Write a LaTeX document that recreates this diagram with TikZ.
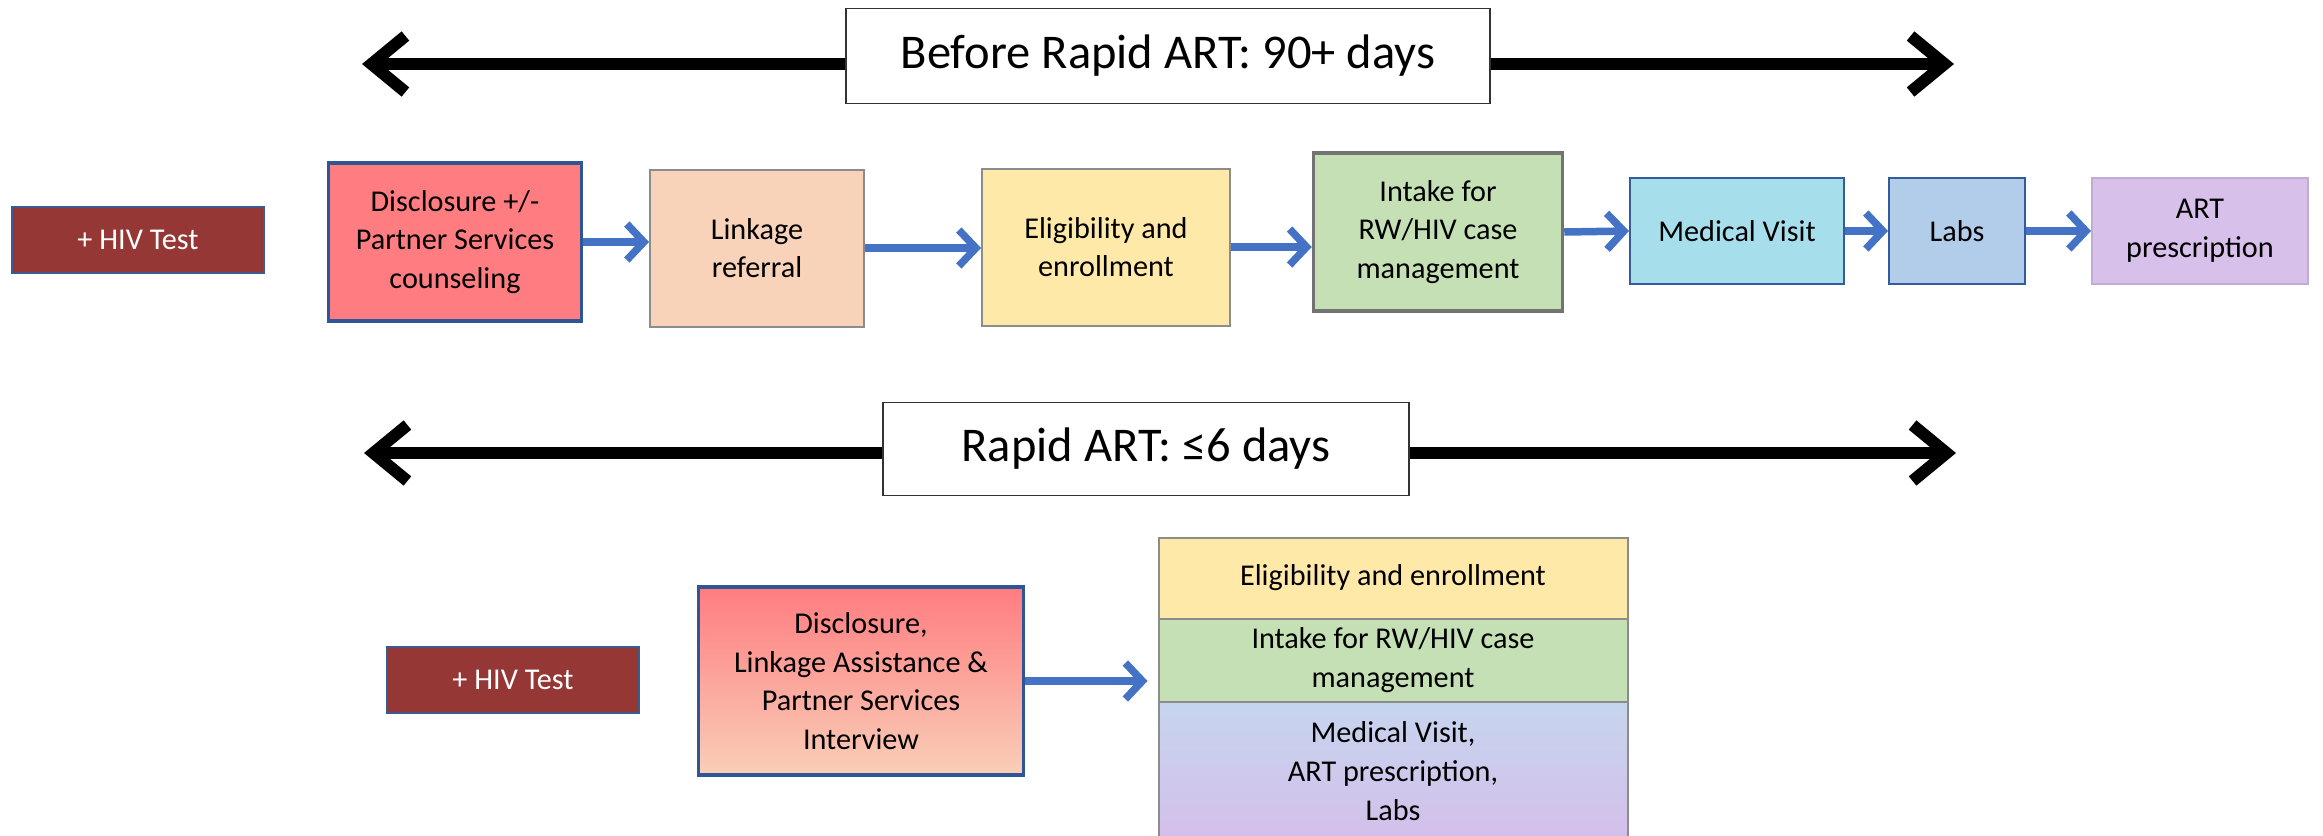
\documentclass[tikz,border=0pt]{standalone}
\usepackage{fontspec}
\setmainfont{Carlito}
\usetikzlibrary{arrows.meta}

\definecolor{testred}{HTML}{953735}
\definecolor{testedge}{HTML}{3B5A8E}
\definecolor{discred}{HTML}{FF7C80}
\definecolor{discedge}{HTML}{2F5597}
\definecolor{linkpeach}{HTML}{F8D3BA}
\definecolor{eligyellow}{HTML}{FFE9A9}
\definecolor{intakegreen}{HTML}{C5E0B4}
\definecolor{medcyan}{HTML}{A6DFEB}
\definecolor{labsblue}{HTML}{B1CDEA}
\definecolor{artlilac}{HTML}{D7C0EA}
\definecolor{stacktop}{HTML}{C6D5EF}
\definecolor{stackmid}{HTML}{ABC0E4}
\definecolor{stackbot}{HTML}{D4BFEA}
\definecolor{flowblue}{HTML}{4472C4}
\definecolor{boxgray}{HTML}{8C8C8C}

\tikzset{
	stepbox/.style={draw=boxgray, line width=0.2mm, align=center,
		font=\fontsize{8.6}{11}\selectfont, inner sep=0pt},
	testbox/.style={draw=testedge, fill=testred, text=white, line width=0.2mm,
		font=\fontsize{8.6}{11}\selectfont, minimum width=25.2mm, minimum height=6.6mm},
	titlebox/.style={draw=black!80, fill=white, line width=0.15mm,
		font=\fontsize{13.8}{16}\selectfont},
	timeline/.style={line width=1.2mm, {Straight Barb[length=3.4mm,width=5.6mm]}-{Straight Barb[length=3.4mm,width=5.6mm]}},
	flow/.style={draw=flowblue, line width=0.75mm, -{Straight Barb[length=1.7mm,width=3.6mm]}},
}

\begin{document}
\begin{tikzpicture}[x=0.1mm,y=-0.1mm]
\useasboundingbox (0,0) rectangle (2323,836);

%Before Rapid ART
\coordinate (t1l) at (362,64);
\coordinate (t1r) at (1954,64);
\draw[timeline] (t1l) -- (t1r);
\node [titlebox,
	minimum width=64.4mm,
	minimum height=9.5mm,
]  (title1)at (1168,56) {Before Rapid ART: 90+ days};

\node [testbox]  (hiv1)at (138,240) {+ HIV Test};

\node [stepbox, fill=discred, draw=discedge, line width=0.35mm,
	minimum width=25.3mm,
	minimum height=15.8mm,
]  (dis1)at (455,242) {Disclosure +/-\\Partner Services\\counseling};

\node [stepbox, fill=linkpeach,
	minimum width=21.4mm,
	minimum height=15.7mm,
]  (link1)at (757,248) {Linkage\\referral};

\node [stepbox, fill=eligyellow,
	minimum width=24.8mm,
	minimum height=15.7mm,
]  (elig1)at (1106,247) {Eligibility and\\enrollment};

\node [stepbox, fill=intakegreen, draw=black!55, line width=0.35mm,
	minimum width=24.9mm,
	minimum height=15.8mm,
]  (intake1)at (1438,232) {Intake for\\RW/HIV case\\management};

\node [stepbox, fill=medcyan, draw=flowblue!80!black,
	minimum width=21.4mm,
	minimum height=10.6mm,
]  (med1)at (1737,231) {Medical Visit};

\node [stepbox, fill=labsblue, draw=flowblue!80!black,
	minimum width=13.6mm,
	minimum height=10.6mm,
]  (labs1)at (1957,231) {Labs};

\node [stepbox, fill=artlilac, draw=artlilac!90!black,
	minimum width=21.6mm,
	minimum height=10.6mm,
]  (art1)at (2200,231) {ART\\prescription};

\draw[flow] (dis1.east) -- (dis1.east -| link1.west);
\draw[flow] (link1.east) -- (link1.east -| elig1.west);
\draw[flow] (elig1.east) -- (elig1.east -| intake1.west);
\draw[flow] (intake1.east) -- (med1.west);
\draw[flow] (med1.east) -- (labs1.west);
\draw[flow] (labs1.east) -- (art1.west);


%Rapid ART
\coordinate (t2l) at (364,453);
\coordinate (t2r) at (1956,453);
\draw[timeline] (t2l) -- (t2r);
\node [titlebox,
	minimum width=52.6mm,
	minimum height=9.3mm,
]  (title2)at (1146,449) {Rapid ART: ≤6 days};

\node [testbox]  (hiv2)at (513,680) {+ HIV Test};

\node [stepbox, top color=discred, bottom color=linkpeach!95!discred,
	draw=discedge, line width=0.35mm,
	minimum width=32.5mm,
	minimum height=18.8mm,
]  (dis2)at (861,681) {Disclosure,\\Linkage Assistance \&\\Partner Services\\Interview};

%stacked visit
\node [stepbox, fill=eligyellow,
	minimum width=46.9mm,
	minimum height=8.1mm,
]  (elig2)at (1393,578) {Eligibility and enrollment};

\node [stepbox, fill=intakegreen,
	minimum width=46.9mm,
	minimum height=8.3mm,
]  (intake2)at (1393,660) {Intake for RW/HIV case\\management};

\node [stepbox, top color=stacktop, middle color=stackmid,
	bottom color=stackbot,
	minimum width=46.9mm,
	minimum height=13.8mm,
]  (med2)at (1393,771) {Medical Visit,\\ART prescription,\\Labs};

\draw[flow, shorten >=1mm] (dis2.east) -- (dis2.east -| med2.west);

\end{tikzpicture}
\end{document}
